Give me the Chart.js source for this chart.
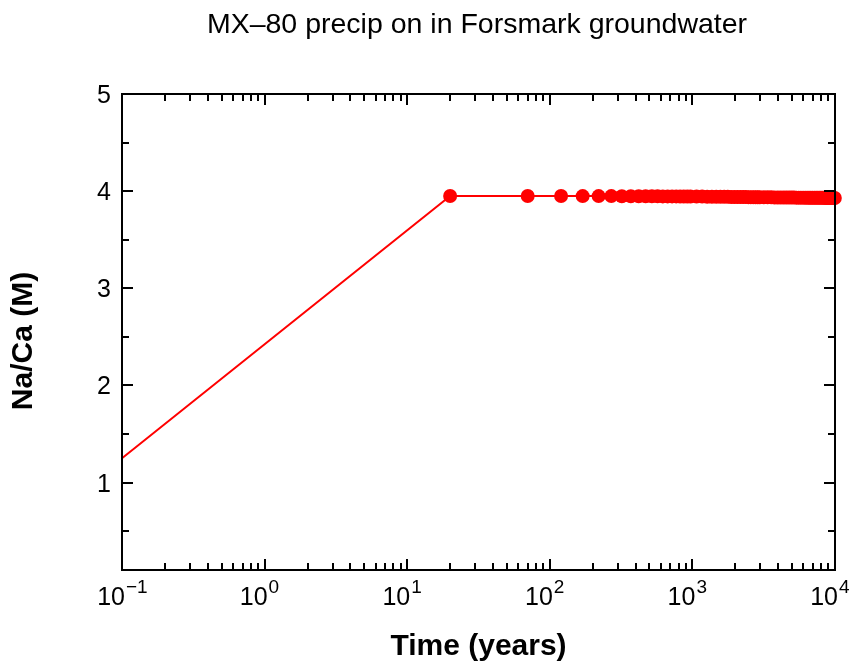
<!DOCTYPE html>
<html>
<head>
<meta charset="utf-8">
<script src="https://cdn.jsdelivr.net/npm/chart.js@4.4.1/dist/chart.umd.min.js"></script>
<style>
  body { margin: 0; background: #fff; }
  canvas { display: block; }
</style>
</head>
<body>
<canvas id="chart-box" width="859" height="668"></canvas>
<script>
const titleText = 'MX\u201380 precip on in Forsmark groundwater';
const xTitle = 'Time (years)';
const yTitle = 'Na/Ca (M)';

// time (years)
const timeYears = [
  0.1, 20, 70, 120, 170, 220, 270, 320, 370, 420, 470,
  520, 570, 620, 670, 720, 770, 820, 870, 920, 970,
  1070, 1170, 1270, 1370, 1470, 1570, 1670, 1770, 1870, 1970,
  2070, 2170, 2270, 2370, 2470, 2570, 2670, 2770, 2870, 2970,
  3170, 3370, 3570, 3770, 3970, 4170, 4370, 4570, 4770, 4970,
  5170, 5370, 5570, 5770, 5970, 6170, 6370, 6570, 6770, 6970,
  7170, 7370, 7570, 7770, 7970, 8170, 8370, 8570, 8770, 8970,
  9170, 9370, 9570, 9770, 9970
];
// Na/Ca (M)
const naCa = [
  1.25, 3.950, 3.950, 3.950, 3.949, 3.949, 3.949, 3.948, 3.948, 3.948,
  3.947, 3.947, 3.947, 3.946, 3.946, 3.946, 3.946, 3.945, 3.945, 3.945,
  3.945,
  3.944, 3.944, 3.943, 3.943, 3.942, 3.942, 3.941, 3.941, 3.940, 3.940,
  3.940, 3.939, 3.939, 3.939, 3.938, 3.938, 3.938, 3.937, 3.937, 3.937,
  3.936, 3.936, 3.936, 3.935, 3.935, 3.935, 3.935, 3.934, 3.934, 3.934,
  3.934, 3.933, 3.933, 3.933, 3.933, 3.933, 3.932, 3.932, 3.932, 3.932,
  3.932, 3.931, 3.931, 3.931, 3.931, 3.931, 3.931, 3.930, 3.930, 3.930,
  3.930, 3.930, 3.930, 3.930, 3.930
];

const yTickValues = [1, 2, 3, 4, 5];
const yMinorValues = [0.5, 1.5, 2.5, 3.5, 4.5];
const xDecadeExps = [-1, 0, 1, 2, 3, 4];

const FONT = '"Liberation Sans", Arial, Helvetica, sans-serif';

const framePlugin = {
  id: 'framePlugin',
  afterDraw(chart) {
    const ctx = chart.ctx;
    const a = chart.chartArea;
    const xs = chart.scales.x;
    const ys = chart.scales.y;
    ctx.save();
    ctx.strokeStyle = '#000';

    // ticks (inside, mirrored)
    ctx.lineWidth = 2;
    ctx.beginPath();
    const majorLen = 11, minorLen = 7;
    xDecadeExps.forEach(e => {
      const base = Math.pow(10, e);
      const px = Math.round(xs.getPixelForValue(base));
      ctx.moveTo(px, a.bottom); ctx.lineTo(px, a.bottom - majorLen);
      ctx.moveTo(px, a.top); ctx.lineTo(px, a.top + majorLen);
      if (e < 4) {
        for (let m = 2; m <= 9; m++) {
          const mx = Math.round(xs.getPixelForValue(base * m));
          ctx.moveTo(mx, a.bottom); ctx.lineTo(mx, a.bottom - minorLen);
          ctx.moveTo(mx, a.top); ctx.lineTo(mx, a.top + minorLen);
        }
      }
    });
    yTickValues.forEach(v => {
      const py = Math.round(ys.getPixelForValue(v));
      ctx.moveTo(a.left, py); ctx.lineTo(a.left + majorLen, py);
      ctx.moveTo(a.right, py); ctx.lineTo(a.right - majorLen, py);
    });
    yMinorValues.forEach(v => {
      const py = Math.round(ys.getPixelForValue(v));
      ctx.moveTo(a.left, py); ctx.lineTo(a.left + minorLen, py);
      ctx.moveTo(a.right, py); ctx.lineTo(a.right - minorLen, py);
    });
    ctx.stroke();

    // frame
    ctx.lineWidth = 2;
    ctx.strokeRect(a.left, a.top, a.right - a.left, a.bottom - a.top);

    ctx.fillStyle = '#000';
    ctx.textBaseline = 'alphabetic';
    // y tick labels
    ctx.font = '25px ' + FONT;
    ctx.textAlign = 'right';
    yTickValues.forEach(v => {
      ctx.fillText(String(v), a.left - 11, ys.getPixelForValue(v) + 9);
    });

    // x tick labels 10^n, "10" ends at the tick, exponent after it
    xDecadeExps.forEach(e => {
      const px = xs.getPixelForValue(Math.pow(10, e));
      const expStr = e < 0 ? '\u2212' + Math.abs(e) : String(e);
      ctx.textAlign = 'right';
      ctx.font = '25px ' + FONT;
      ctx.fillText('10', px + 3, 605);
      ctx.textAlign = 'left';
      ctx.font = '19px ' + FONT;
      ctx.fillText(expStr, px + 4, 593);
    });

    // axis titles
    ctx.font = 'bold 30px ' + FONT;
    ctx.textAlign = 'center';
    ctx.fillText(xTitle, (a.left + a.right) / 2, 655);
    ctx.save();
    ctx.translate(32, 341);
    ctx.rotate(-Math.PI / 2);
    ctx.fillText(yTitle, 0, 0);
    ctx.restore();

    // chart title
    ctx.font = '28.5px ' + FONT;
    ctx.fillText(titleText, 477, 33);
    ctx.restore();
  }
};

const ctx = document.getElementById('chart-box');

const myChart = new Chart(ctx, {
  type: 'line',
  data: {
    datasets: [{
      data: timeYears.map((t, i) => ({ x: t, y: naCa[i] })),
      borderColor: '#ff0000',
      backgroundColor: '#ff0000',
      borderWidth: 2,
      pointRadius: timeYears.map((t, i) => i === 0 ? 0 : 7),
      pointBorderWidth: 0,
      pointBackgroundColor: '#ff0000',
      tension: 0,
      clip: false
    }]
  },
  options: {
    responsive: false,
    animation: false,
    layout: { padding: { top: 94, right: 24, left: 0, bottom: 0 } },
    plugins: {
      legend: { display: false },
      tooltip: { enabled: false },
      title: { display: false }
    },
    scales: {
      x: {
        type: 'logarithmic',
        min: 0.1,
        max: 10000,
        grid: { display: false },
        border: { display: false },
        ticks: { display: false },
        afterFit: (scale) => { scale.height = 98; }
      },
      y: {
        type: 'linear',
        min: 0.1,
        max: 5,
        grid: { display: false },
        border: { display: false },
        ticks: { display: false },
        afterFit: (scale) => { scale.width = 122; }
      }
    }
  },
  plugins: [framePlugin]
});
</script>
</body>
</html>
